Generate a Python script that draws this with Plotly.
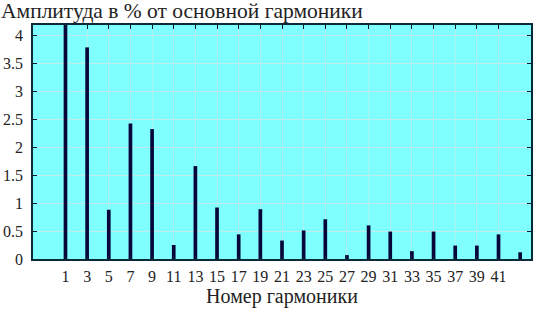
import plotly.graph_objects as go

harmonics = [1, 3, 5, 7, 9, 11, 13, 15, 17, 19, 21, 23, 25, 27, 29, 31, 33, 35, 37, 39, 41, 43]
amplitudes = [4.5, 3.78, 0.88, 2.42, 2.32, 0.25, 1.66, 0.92, 0.44, 0.89, 0.33, 0.51, 0.71, 0.07, 0.60,
              0.49, 0.14, 0.49, 0.24, 0.24, 0.44, 0.12]
x_ticks = list(range(1, 42, 2))
y_ticks = [0, 0.5, 1, 1.5, 2, 2.5, 3, 3.5, 4]
y_tick_labels = ["0", "0.5", "1", "1.5", "2", "2.5", "3", "3.5", "4"]

FONT = "Liberation Serif"
fig = go.Figure(go.Bar(x=harmonics, y=amplitudes, width=0.34,
                       marker=dict(color="#06063a", line=dict(width=0))))

fig.update_layout(
    width=533, height=310,
    margin=dict(l=33, r=2, t=25, b=51, autoexpand=False),
    paper_bgcolor="white", plot_bgcolor="#80ffff",
    showlegend=False,
    font=dict(family=FONT, size=16, color="#222222"),
    title=dict(text="Амплитуда в % от основной гармоники", xref="container", yref="container",
               x=0.0, xanchor="left", y=0.966, yanchor="middle", pad=dict(l=1, t=0),
               font=dict(family=FONT, size=21.5, color="#222222")),
)
fig.update_xaxes(
    range=[-2, 44], tickmode="array", tickvals=x_ticks, ticktext=[str(v) for v in x_ticks],
    ticks="inside", ticklen=4, tickcolor="#0a2030", showline=True, linecolor="#0a2a3a", linewidth=1.5,
    mirror="ticks", showgrid=True, gridcolor="#acf0f0", gridwidth=1, zeroline=False,
    ticklabelstandoff=2, automargin=False,
    title=dict(text="Номер гармоники", standoff=0, font=dict(family=FONT, size=20, color="#222222")),
)
fig.update_yaxes(
    range=[0, 4.18], tickmode="array", tickvals=y_ticks, ticktext=y_tick_labels,
    ticks="inside", ticklen=4, tickcolor="#0a2030", showline=True, linecolor="#0a2a3a", linewidth=1.5,
    mirror="ticks", showgrid=True, gridcolor="#c0ecec", gridwidth=1, zeroline=False,
    ticklabelstandoff=5, automargin=False,
)
fig.write_html("out.html", config={"displayModeBar": False},
               post_script="document.body.style.margin='0';document.body.style.padding='0';")
